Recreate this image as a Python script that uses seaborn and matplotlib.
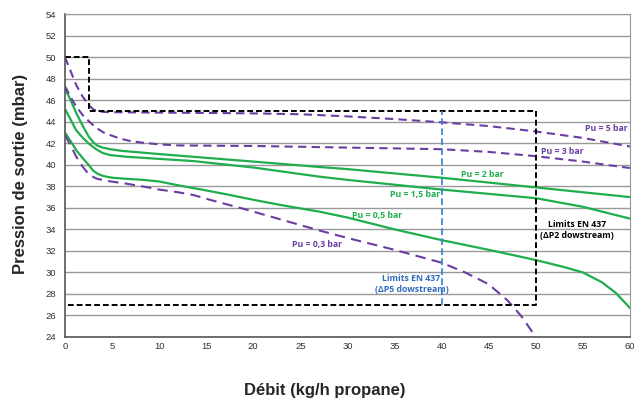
import matplotlib.pyplot as plt
import seaborn as sns
from matplotlib.ticker import MultipleLocator

# values
x_5bar = [0, 0.6, 1.2, 1.9, 2.6, 3.0, 3.6, 4.5, 6, 10, 15, 20, 25, 30, 35, 40, 45, 50, 55, 60]
y_5bar = [50, 48.7, 47.4, 46.3, 45.5, 45.15, 44.95, 44.9, 44.88, 44.85, 44.82, 44.78, 44.7, 44.5, 44.25, 43.95, 43.6, 43.1, 42.5, 41.7]

x_3bar = [0, 0.6, 1.2, 1.9, 2.6, 3.3, 4.1, 5.0, 5.8, 7, 8.3, 10, 12, 20, 30, 40, 45, 50, 55, 60]
y_3bar = [47.3, 46.3, 45.4, 44.6, 44.0, 43.45, 43.0, 42.7, 42.45, 42.2, 42.05, 41.9, 41.8, 41.75, 41.6, 41.45, 41.2, 40.8, 40.3, 39.7]

x_2bar = [0, 0.6, 1.2, 1.9, 2.5, 3.0, 3.4, 4.0, 4.8, 6, 8, 10, 15, 20, 27, 30, 40, 50, 60]
y_2bar = [47.1, 46.0, 44.8, 43.6, 42.65, 42.1, 41.8, 41.6, 41.45, 41.3, 41.15, 41.0, 40.65, 40.3, 39.8, 39.6, 38.8, 37.9, 37.0]

x_15bar = [0, 0.6, 1.2, 1.9, 2.5, 3.0, 3.4, 4.0, 4.8, 6.5, 10, 13.6, 20, 27, 30, 40, 50, 55, 60]
y_15bar = [45.2, 44.2, 43.2, 42.5, 42.0, 41.65, 41.4, 41.1, 40.9, 40.75, 40.55, 40.35, 39.75, 38.9, 38.6, 37.7, 36.9, 36.1, 35.0]

x_05bar = [0, 0.6, 1.2, 1.9, 2.5, 3.0, 3.5, 4.1, 5, 6.5, 8.3, 10, 12, 14.5, 17.2, 20, 23, 27, 30, 35, 40, 45, 50, 53, 55, 57, 58.5, 60]
y_05bar = [43.0, 42.2, 41.35, 40.6, 40.0, 39.45, 39.15, 38.95, 38.8, 38.7, 38.6, 38.45, 38.1, 37.7, 37.25, 36.75, 36.25, 35.65, 35.1, 34.0, 33.0, 32.1, 31.15, 30.5, 30.0, 29.1, 28.1, 26.7]

x_03bar = [0, 0.6, 1.2, 1.9, 2.6, 3.4, 4.5, 6.5, 8.5, 10, 12, 13.6, 16, 19, 23, 27, 30, 35, 40, 42.5, 45, 47, 48.5, 50]
y_03bar = [42.75, 41.8, 40.75, 39.8, 39.05, 38.7, 38.5, 38.25, 37.95, 37.7, 37.45, 37.2, 36.6, 35.9, 34.9, 33.9, 33.2, 32.1, 30.9, 30.0, 28.9, 27.4, 25.9, 24.0]

limit_x = [0, 2.5, 2.5, 50, 50, 0]
limit_y = [50, 50, 45, 45, 27, 27]

purple = '#6a3da3'
green = '#1fae4b'
blue = '#2f80d0'

sns.set_style('white')
plt.rcParams['font.family'] = ['Liberation Sans', 'DejaVu Sans']

fig = plt.figure(figsize=(6.34, 4.05), dpi=100)
ax = fig.add_axes([0.1025, 0.168, 0.891, 0.797])

ax.set_axisbelow(True)
ax.yaxis.grid(True, color='#999999', linewidth=1.0)

sns.lineplot(x=x_2bar, y=y_2bar, color=green, linewidth=1.6, ax=ax)
sns.lineplot(x=x_15bar, y=y_15bar, color=green, linewidth=1.6, ax=ax)
sns.lineplot(x=x_05bar, y=y_05bar, color=green, linewidth=1.6, ax=ax)
sns.lineplot(x=x_5bar, y=y_5bar, color=purple, linewidth=1.5, linestyle=(0, (4, 2.5)), ax=ax)
sns.lineplot(x=x_3bar, y=y_3bar, color=purple, linewidth=1.5, linestyle=(0, (4, 2.5)), ax=ax)
sns.lineplot(x=x_03bar, y=y_03bar, color=purple, linewidth=1.5, linestyle=(0, (5, 3)), ax=ax)

ax.plot(limit_x, limit_y, color='black', linewidth=1.4, linestyle=(0, (3, 1.5)))
ax.plot([40, 40], [27, 45], color=blue, linewidth=1.2, linestyle=(0, (4, 2)))

lab = dict(fontsize=6.3, fontweight='bold', ha='center', va='center', family=['Open Sans', 'DejaVu Sans'])
ax.text(57.5, 43.4, 'Pu = 5 bar', color=purple, **lab)
ax.text(52.8, 41.2, 'Pu = 3 bar', color=purple, **lab)
ax.text(44.3, 39.1, 'Pu = 2 bar', color=green, **lab)
ax.text(37.2, 37.2, 'Pu = 1,5 bar', color=green, **lab)
ax.text(33.2, 35.3, 'Pu = 0,5 bar', color=green, **lab)
ax.text(26.8, 32.6, 'Pu = 0,3 bar', color=purple, **lab)
ax.text(36.8, 28.9, 'Limits EN 437\n(ΔP5 dowstream)', color='#2e6cc0', linespacing=1.3, **lab)
ax.text(54.4, 33.9, 'Limits EN 437\n(ΔP2 dowstream)', color='black', linespacing=1.3, **lab)

ax.set_xlim(0, 60)
ax.set_ylim(24, 54)
ax.xaxis.set_major_locator(MultipleLocator(5))
ax.xaxis.set_minor_locator(MultipleLocator(1))
ax.yaxis.set_major_locator(MultipleLocator(2))
ax.yaxis.set_minor_locator(MultipleLocator(1))
ax.tick_params(axis='both', which='major', labelsize=6.8, labelcolor='#333333', length=3, color='#666666')
ax.tick_params(axis='x', which='minor', direction='in', length=2, color='#666666')
ax.tick_params(axis='y', which='minor', direction='out', length=2, color='#666666')
ax.tick_params(axis='x', direction='in')

for side in ['top', 'right']:
    ax.spines[side].set_color('#999999')
for side in ['left', 'bottom']:
    ax.spines[side].set_color('#555555')
    ax.spines[side].set_linewidth(1.2)

fig.text(0.513, 0.037, 'Débit (kg/h propane)', fontsize=12, fontweight='bold', ha='center', va='center')
fig.text(0.032, 0.57, 'Pression de sortie (mbar)', fontsize=12, fontweight='bold', ha='center', va='center', rotation=90)

plt.savefig('out.png', dpi=100)
